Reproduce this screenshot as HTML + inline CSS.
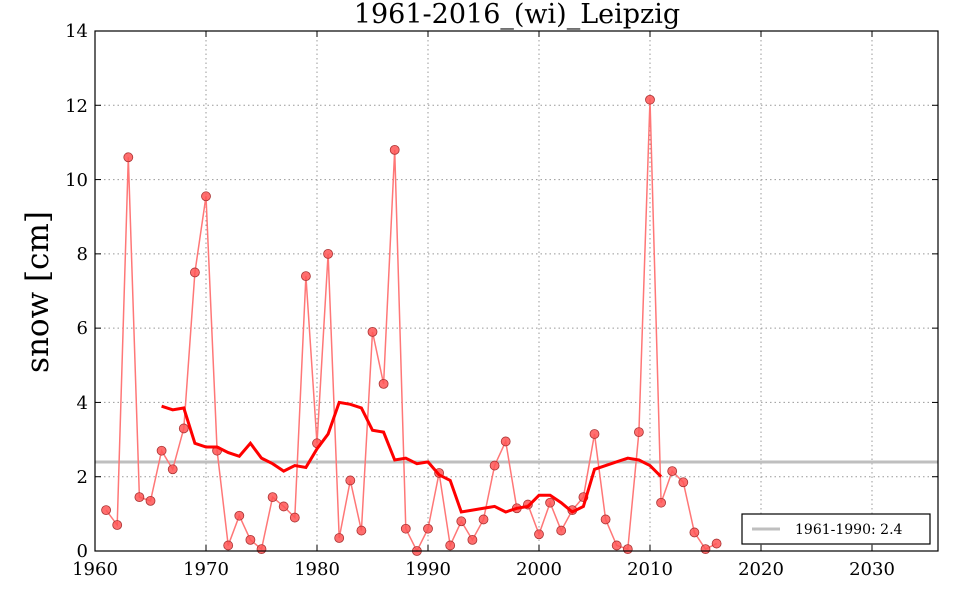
<!DOCTYPE html>
<html><head><meta charset="utf-8">
<style>
body{margin:0;background:#fff;}
svg text{font-family:"DejaVu Serif","Liberation Serif",serif;fill:#000;}
</style></head>
<body>
<svg id="s" width="960" height="600" xmlns="http://www.w3.org/2000/svg">
<rect width="960" height="600" fill="#fff"/>
<g id="grid" stroke="#999" stroke-dasharray="1.5,3" stroke-width="1"></g>
<line x1="95" y1="462" x2="938" y2="462" stroke="#bfbfbf" stroke-width="3"/>
<polyline id="raw" fill="none" stroke="#f77" stroke-width="1.5"/>
<g id="pts" fill="#f55" fill-opacity="0.85" stroke="#a33" stroke-width="0.8"></g>
<polyline id="ma" fill="none" stroke="#f00" stroke-width="3"/>
<rect x="95" y="31" width="843" height="520" fill="none" stroke="#000" stroke-width="1.2"/>
<g id="ticks" stroke="#000"></g>
<g font-size="18" text-anchor="middle">
<text x="95" y="575">1960</text><text x="206" y="575">1970</text><text x="317" y="575">1980</text>
<text x="428" y="575">1990</text><text x="539" y="575">2000</text><text x="650" y="575">2010</text>
<text x="761" y="575">2020</text><text x="872" y="575">2030</text>
</g>
<g font-size="18" text-anchor="end">
<text x="88" y="557">0</text><text x="88" y="483">2</text><text x="88" y="409">4</text>
<text x="88" y="334">6</text><text x="88" y="260">8</text><text x="88" y="186">10</text>
<text x="88" y="112">12</text><text x="88" y="37">14</text>
</g>
<text x="517" y="23" font-size="27" text-anchor="middle">1961-2016_(wi)_Leipzig</text>
<text transform="translate(48,292) rotate(-90)" font-size="31" text-anchor="middle">snow [cm]</text>
<rect x="742" y="514" width="188" height="30" fill="#fff" stroke="#000" stroke-width="1.2"/>
<line x1="752" y1="529" x2="780" y2="529" stroke="#bfbfbf" stroke-width="3"/>
<text x="795" y="534" font-size="14">1961-1990: 2.4</text>
</svg>
<script>
const X=y=>95+(y-1960)*11.1, Y=v=>551-v*37.143;
const d=[1.1,0.7,10.6,1.45,1.35,2.7,2.2,3.3,7.5,9.55,2.7,0.15,0.95,0.3,0.05,1.45,1.2,0.9,7.4,2.9,8.0,0.35,1.9,0.55,5.9,4.5,10.8,0.6,0.0,0.6,2.1,0.15,0.8,0.3,0.85,2.3,2.95,1.15,1.25,0.45,1.3,0.55,1.1,1.45,3.15,0.85,0.15,0.05,3.2,12.15,1.3,2.15,1.85,0.5,0.05,0.2];
const m=[3.9,3.8,3.85,2.9,2.8,2.8,2.65,2.55,2.9,2.5,2.35,2.15,2.3,2.25,2.75,3.15,4.0,3.95,3.85,3.25,3.2,2.45,2.5,2.35,2.4,2.05,1.9,1.05,1.1,1.15,1.2,1.05,1.15,1.2,1.5,1.5,1.3,1.05,1.2,2.2,2.3,2.4,2.5,2.45,2.3,2.0];
const ns="http://www.w3.org/2000/svg";
document.getElementById('raw').setAttribute('points',d.map((v,i)=>X(1961+i)+','+Y(v)).join(' '));
document.getElementById('ma').setAttribute('points',m.map((v,i)=>X(1966+i)+','+Y(v)).join(' '));
const P=document.getElementById('pts');
d.forEach((v,i)=>{const c=document.createElementNS(ns,'circle');c.setAttribute('cx',X(1961+i));c.setAttribute('cy',Y(v));c.setAttribute('r',4.5);P.appendChild(c);});
const G=document.getElementById('grid'),T=document.getElementById('ticks');
function ln(g,a,b,c,e){const l=document.createElementNS(ns,'line');l.setAttribute('x1',a);l.setAttribute('y1',b);l.setAttribute('x2',c);l.setAttribute('y2',e);g.appendChild(l);}
for(let y=1970;y<=2030;y+=10){ln(G,X(y),31,X(y),551);}
for(let v=2;v<=12;v+=2){ln(G,95,Y(v),938,Y(v));}
for(let y=1960;y<=2030;y+=10){ln(T,X(y),551,X(y),545);ln(T,X(y),31,X(y),37);}
for(let v=0;v<=14;v+=2){ln(T,95,Y(v),101,Y(v));ln(T,938,Y(v),932,Y(v));}
</script>
</body></html>
